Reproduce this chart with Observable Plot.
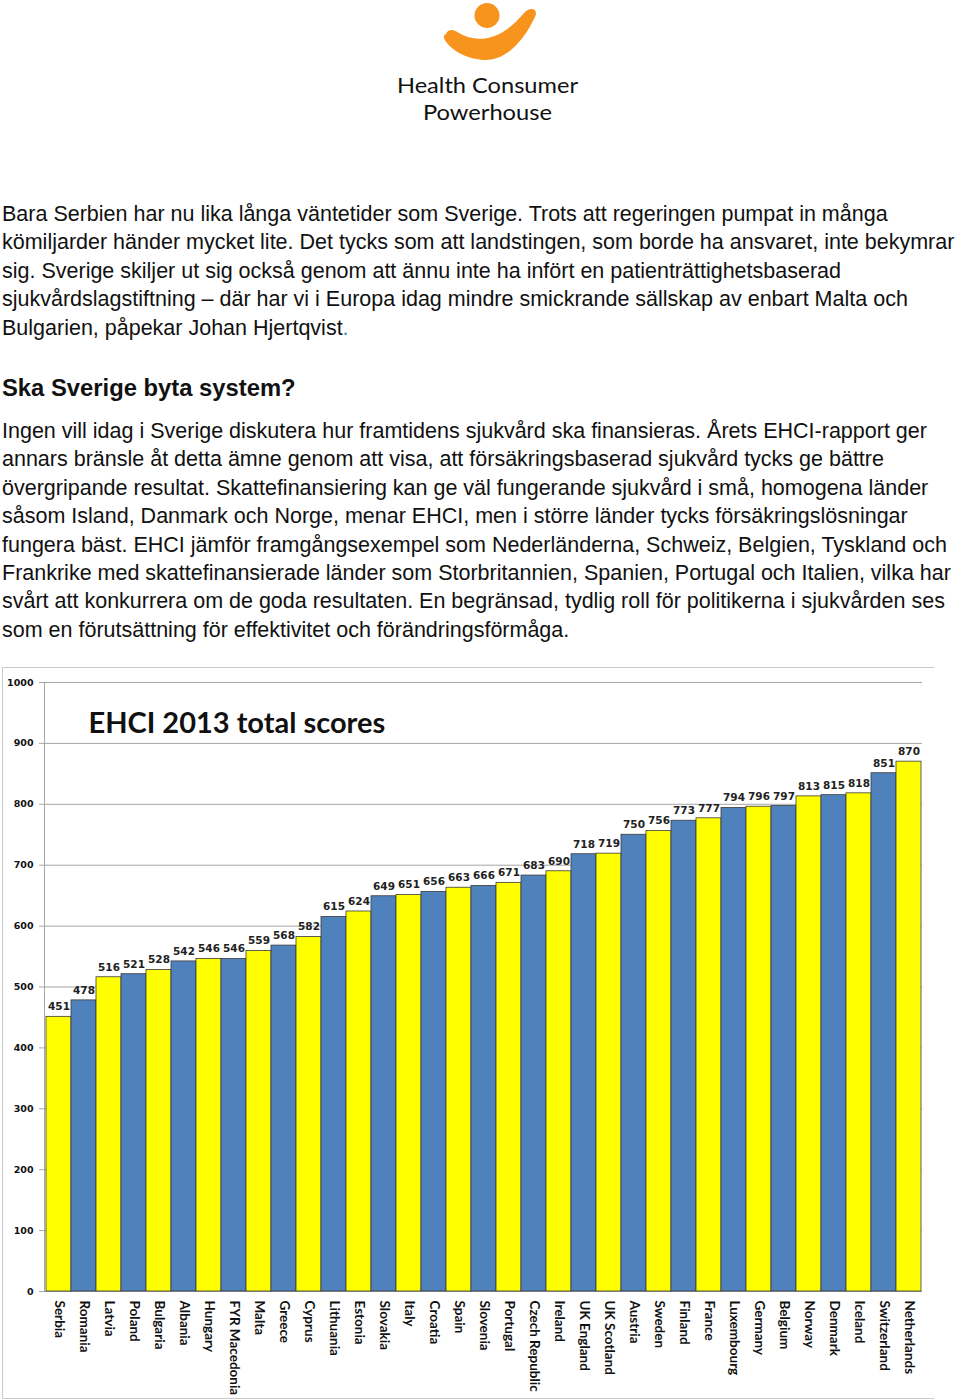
<!DOCTYPE html>
<html>
<head>
<meta charset="utf-8">
<script src="https://cdn.jsdelivr.net/npm/d3@7"></script>
<script src="https://cdn.jsdelivr.net/npm/@observablehq/plot@0.6"></script>
<style>
  html, body { margin: 0; padding: 0; background: #fff; }
  body { width: 960px; height: 1400px; position: relative; overflow: hidden; }
  #logo { position: absolute; left: 0; top: 0; }
  .para { position: absolute; left: 2px; font-family: "Liberation Sans", Arial, sans-serif; font-size: 21.5px; color: #111; white-space: nowrap; }
  .para div { height: 28.4px; line-height: 28.4px; }
  #h2 { position: absolute; left: 2px; top: 373px; height: 30px; line-height: 30px; font-family: "Liberation Sans", Arial, sans-serif; font-size: 23.8px; font-weight: bold; color: #111; white-space: nowrap; }
  #chartbox { position: absolute; left: 2px; top: 667px; width: 931px; height: 730px; border-top: 1px solid #c9c9c9; border-left: 1px solid #c9c9c9; border-bottom: 1px solid #c9c9c9; }
  #chartbox svg { display: block; }
</style>
</head>
<body>
<svg id="logo" width="960" height="130">
  <circle cx="487" cy="15.5" r="12.5" fill="#F7941E"></circle>
  <path d="M 446 34 C 448 29, 453 29, 459 33 C 476 43, 500 42, 524 13 C 530 6, 539 9, 535 17 C 523 42, 506 60, 486 60 C 469 60, 453 51, 447 43 C 443 38, 443 35, 446 34 Z" fill="#F7941E"></path>
  <text x="397" y="93" font-family="Lato, 'Open Sans', sans-serif" font-size="21.5" fill="#111" textLength="181" lengthAdjust="spacingAndGlyphs">Health Consumer</text>
  <text x="423" y="119.5" font-family="Lato, 'Open Sans', sans-serif" font-size="21.5" fill="#111" textLength="129" lengthAdjust="spacingAndGlyphs">Powerhouse</text>
</svg>

<div class="para" style="top:200px">
  <div>Bara Serbien har nu lika långa väntetider som Sverige. Trots att regeringen pumpat in många</div>
  <div>kömiljarder händer mycket lite. Det tycks som att landstingen, som borde ha ansvaret, inte bekymrar</div>
  <div>sig. Sverige skiljer ut sig också genom att ännu inte ha infört en patienträttighetsbaserad</div>
  <div>sjukvårdslagstiftning – där har vi i Europa idag mindre smickrande sällskap av enbart Malta och</div>
  <div>Bulgarien, påpekar Johan Hjertqvist<span style="color:#3a8fb0">.</span></div>
</div>

<div id="h2">Ska Sverige byta system?</div>

<div class="para" style="top:417px">
  <div>Ingen vill idag i Sverige diskutera hur framtidens sjukvård ska finansieras. Årets EHCI-rapport ger</div>
  <div>annars bränsle åt detta ämne genom att visa, att försäkringsbaserad sjukvård tycks ge bättre</div>
  <div>övergripande resultat. Skattefinansiering kan ge väl fungerande sjukvård i små, homogena länder</div>
  <div>såsom Island, Danmark och Norge, menar EHCI, men i större länder tycks försäkringslösningar</div>
  <div>fungera bäst. EHCI jämför framgångsexempel som Nederländerna, Schweiz, Belgien, Tyskland och</div>
  <div>Frankrike med skattefinansierade länder som Storbritannien, Spanien, Portugal och Italien, vilka har</div>
  <div>svårt att konkurrera om de goda resultaten. En begränsad, tydlig roll för politikerna i sjukvården ses</div>
  <div>som en förutsättning för effektivitet och förändringsförmåga.</div>
</div>

<div id="chartbox"></div>

<script>
const chartTitle = "EHCI 2013 total scores";
const countries = ["Serbia","Romania","Latvia","Poland","Bulgaria","Albania","Hungary","FYR Macedonia","Malta","Greece","Cyprus","Lithuania","Estonia","Slovakia","Italy","Croatia","Spain","Slovenia","Portugal","Czech Republic","Ireland","UK England","UK Scotland","Austria","Sweden","Finland","France","Luxembourg","Germany","Belgium","Norway","Denmark","Iceland","Switzerland","Netherlands"];
const scores = [451,478,516,521,528,542,546,546,559,568,582,615,624,649,651,656,663,666,671,683,690,718,719,750,756,773,777,794,796,797,813,815,818,851,870];
const barColors = ["#FFFF00", "#4F81BD"];
const yTicks = [0,100,200,300,400,500,600,700,800,900,1000];

const data = countries.map((c, i) => ({country: c, score: scores[i], color: barColors[i % 2]}));

const chart = Plot.plot({
  width: 930,
  height: 729,
  marginTop: 14,
  marginBottom: 106,
  marginLeft: 41,
  marginRight: 11,
  style: {background: "#fff", color: "#111"},
  x: {type: "band", domain: countries, padding: 0},
  y: {domain: [0, 1000]},
  marks: [
    Plot.gridY(yTicks, {stroke: "#a6a6a6", strokeOpacity: 1}),
    Plot.frame({anchor: "left", stroke: "#a6a6a6"}),
    Plot.barY(data, {x: "country", y: "score", fill: "color", stroke: "#3a3a3a", strokeWidth: 0.8}),
    Plot.text(data, {x: "country", y: "score", text: d => String(d.score), dy: -10, fontFamily: "DejaVu Sans", fontWeight: "bold", fontSize: 10.5, fill: "#222"}),
    Plot.axisY({ticks: yTicks, tickFormat: d => String(d), tickSize: 5, tickPadding: 6, stroke: "#a6a6a6", label: null, fontFamily: "DejaVu Sans", fontWeight: "bold", fontSize: 9.5, fill: "#111"}),
    Plot.axisX({tickRotate: 90, tickSize: 0, tickPadding: 9, label: null, fontFamily: "Lato", fontWeight: "bold", fontSize: 13.5, fill: "#111"}),
    Plot.text([chartTitle], {frameAnchor: "top-left", text: d => d, dx: 44, dy: 41, lineAnchor: "middle", textAnchor: "start", fontFamily: "Lato", fontWeight: "bold", fontSize: 29, fill: "#111"})
  ]
});
document.getElementById("chartbox").appendChild(chart);
</script>
</body>
</html>
